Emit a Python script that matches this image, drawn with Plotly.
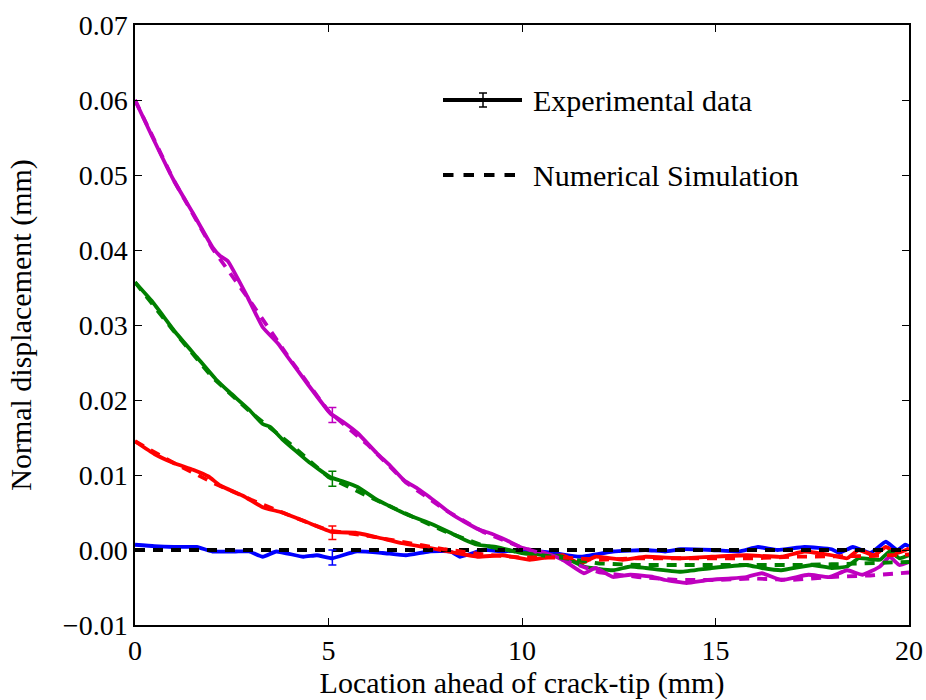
import plotly.graph_objects as go

# ---------------- data ----------------
mag_x = [0, 0.4, 1.0, 1.5, 2.0, 2.2, 2.4, 2.9, 3.3, 3.7, 3.95, 4.45, 5.05, 5.4, 5.75, 6.25, 6.6, 6.95,
         7.3, 7.6, 8.15, 8.5, 8.9, 9.2, 9.6, 10.0, 10.6, 11.05, 11.6, 11.9, 12.35, 12.8, 13.4,
         13.7, 14.25, 14.8, 15.4, 15.8, 16.2, 16.7, 17.4, 17.95, 18.4, 18.8, 19.25, 19.5, 19.75, 20.0]
mag_y = [0.0600, 0.0556, 0.0493, 0.0449, 0.0404, 0.0392, 0.0385, 0.0338, 0.0297, 0.0275, 0.0257, 0.0222,
         0.0182, 0.0170, 0.0156, 0.0129, 0.0112, 0.0093, 0.0082, 0.0071, 0.0049, 0.0038, 0.0027,
         0.0022, 0.0013, 0.0003, -0.0004, -0.0013, -0.0031, -0.0024, -0.0036, -0.0033, -0.0036,
         -0.0040, -0.0044, -0.0040, -0.0038, -0.0036, -0.0031, -0.0040, -0.0033, -0.0036, -0.0027,
         -0.0033, -0.0022, -0.0009, -0.0020, -0.0016]

grn_x = [0, 0.45, 1.05, 1.6, 2.1, 2.45, 2.95, 3.3, 3.5, 3.8, 4.5, 5.05, 5.4, 5.75, 6.25, 6.6, 6.95,
         7.6, 8.15, 8.5, 8.85, 9.35, 10.0, 10.5, 11.05, 11.6, 12.35, 12.8, 13.2, 14.1, 14.9, 15.8,
         16.2, 16.7, 17.5, 18.0, 18.4, 18.7, 19.25, 19.5, 19.75, 20.0]
grn_y = [0.0357, 0.0331, 0.0290, 0.0257, 0.0227, 0.0210, 0.0187, 0.0168, 0.0164, 0.0148, 0.0117,
         0.0097, 0.0091, 0.0084, 0.0067, 0.0058, 0.0049, 0.0036, 0.0023, 0.0014, 0.0007, 0.0004,
         -0.0004, -0.0006, -0.0009, -0.0022, -0.0027, -0.0022, -0.0024, -0.0029, -0.0024, -0.0020,
         -0.0024, -0.0027, -0.0020, -0.0024, -0.0022, -0.0011, -0.0013, -0.0002, -0.0011, -0.0007]

red_x = [0, 0.5, 1.0, 1.5, 1.9, 2.2, 2.8, 3.3, 3.8, 4.45, 5.1, 5.7, 6.25, 6.9, 7.6, 8.3, 8.85, 9.5,
         10.2, 10.6, 11.05, 11.5, 11.9, 12.6, 13.2, 14.1, 14.9, 15.8, 16.7, 17.3, 18.0, 18.4, 18.7,
         19.1, 19.4, 19.7, 20.0]
red_y = [0.0145, 0.0128, 0.0116, 0.0107, 0.0098, 0.0086, 0.0072, 0.0057, 0.0050, 0.0037, 0.0024,
         0.0023, 0.0017, 0.0009, 0.0003, -0.0004, -0.0009, -0.0007, -0.0013, -0.0010, -0.0007,
         -0.0018, -0.0009, -0.0013, -0.0009, -0.0011, -0.0009, -0.0007, -0.0009, -0.0002, -0.0007,
         -0.0011, 0.0000, -0.0007, 0.0004, -0.0004, 0.0002]

blu_x = [0, 0.5, 1.0, 1.6, 2.0, 2.6, 2.95, 3.3, 3.65, 4.35, 4.7, 5.1, 5.7, 6.4, 7.0, 7.6, 8.15, 8.4,
         9.0, 9.5, 10.0, 10.8, 11.5, 12.35, 13.2, 13.7, 14.1, 14.9, 15.6, 16.1, 16.6, 17.3, 18.0,
         18.2, 18.55, 19.0, 19.4, 19.7, 19.9, 20.0]
blu_y = [0.0007, 0.0005, 0.0004, 0.0004, -0.0002, -0.0002, -0.0002, -0.0009, -0.0002, -0.0009,
         -0.0007, -0.0011, -0.0002, -0.0004, -0.0007, -0.0002, -0.0002, -0.0009, 0.0000, -0.0002,
         0.0000, -0.0004, -0.0009, -0.0002, 0.0000, -0.0002, 0.0001, 0.0000, -0.0002, 0.0004,
         0.0000, 0.0004, 0.0001, -0.0004, 0.0004, -0.0004, 0.0011, 0.0000, 0.0007, 0.0005]

sim_x = [0, 1, 2, 3, 4, 5, 6, 7, 8, 9, 10, 11, 12, 13, 14, 15, 16, 17, 18, 19, 20]
mag_sim = [0.0600, 0.0493, 0.0402, 0.0330, 0.0255, 0.0185, 0.0141, 0.0090, 0.0054, 0.0024, 0.0003,
           -0.0012, -0.0030, -0.0036, -0.0040, -0.0040, -0.0038, -0.0040, -0.0036, -0.0034, -0.0030]
grn_sim = [0.0357, 0.0292, 0.0230, 0.0183, 0.0142, 0.0097, 0.0072, 0.0048, 0.0025, 0.0006, -0.0004,
           -0.0010, -0.0018, -0.0020, -0.0020, -0.0021, -0.0020, -0.0020, -0.0019, -0.0018, -0.0016]
red_sim = [0.0145, 0.0116, 0.0090, 0.0067, 0.0046, 0.0026, 0.0019, 0.0010, 0.0001, -0.0006, -0.0010,
           -0.0010, -0.0013, -0.0011, -0.0011, -0.0011, -0.0011, -0.0009, -0.0009, -0.0008, -0.0006]
zero_sim = [0.0] * len(sim_x)

err_x = 5.1
err_y = {"m": 0.0180, "g": 0.0095, "r": 0.0023, "b": -0.0010}
err_size = {"m": 0.0010, "g": 0.0010, "r": 0.0009, "b": 0.0010}

x_ticks = [0, 5, 10, 15, 20]
y_ticks = [-0.01, 0.0, 0.01, 0.02, 0.03, 0.04, 0.05, 0.06, 0.07]
y_ticktext = ["\u22120.01", "0.00", "0.01", "0.02", "0.03", "0.04", "0.05", "0.06", "0.07"]

colors = {"m": "#bf00bf", "g": "#008000", "r": "#ff0000", "b": "#0000ff"}
FONT = "'Liberation Serif', 'DejaVu Serif', serif"
DASH = "10px,8px"
LW = 3.8

fig = go.Figure()

exp = {"m": (mag_x, mag_y), "g": (grn_x, grn_y), "r": (red_x, red_y), "b": (blu_x, blu_y)}
sims = [("m", mag_sim), ("g", grn_sim), ("r", red_sim)]

for k in ["b", "r", "g", "m"]:
    xs, ys = exp[k]
    fig.add_trace(go.Scatter(x=xs, y=ys, mode="lines",
                             line=dict(color=colors[k], width=LW, shape="spline", smoothing=0.4),
                             showlegend=False, hoverinfo="skip"))

fig.add_trace(go.Scatter(x=sim_x, y=zero_sim, mode="lines",
                         line=dict(color="black", width=LW, dash=DASH), showlegend=False))
for k, ys in sims:
    fig.add_trace(go.Scatter(x=sim_x, y=ys, mode="lines",
                             line=dict(color=colors[k], width=LW, dash=DASH), showlegend=False))

for k in ["m", "g", "r", "b"]:
    fig.add_trace(go.Scatter(x=[err_x], y=[err_y[k]], mode="markers",
                             marker=dict(size=1, color=colors[k]),
                             error_y=dict(type="constant", value=err_size[k], color=colors[k],
                                          thickness=1.5, width=4),
                             showlegend=False))

# manual legend (paper coordinates)
L0, L1 = (443 - 135) / 774, (522 - 135) / 774
y1, y2 = (625 - 100) / 600, (625 - 175) / 600
xe = (483 - 135) / 774
fig.add_shape(type="line", xref="paper", yref="paper", x0=L0, x1=L1, y0=y1, y1=y1,
              line=dict(color="black", width=3.8))
fig.add_shape(type="line", xref="paper", yref="paper", x0=xe, x1=xe, y0=y1 - 7 / 600, y1=y1 + 7 / 600,
              line=dict(color="black", width=1.5))
for dy in (-7 / 600, 7 / 600):
    fig.add_shape(type="line", xref="paper", yref="paper", x0=xe - 4 / 774, x1=xe + 4 / 774,
                  y0=y1 + dy, y1=y1 + dy, line=dict(color="black", width=1.5))
fig.add_shape(type="line", xref="paper", yref="paper", x0=L0, x1=L1, y0=y2, y1=y2,
              line=dict(color="black", width=3.8, dash="10.5px,10px"))
fig.add_annotation(xref="paper", yref="paper", x=(531 - 135) / 774, y=y1, xanchor="left",
                   yanchor="middle", text="Experimental data", showarrow=False,
                   font=dict(family=FONT, size=30, color="black"))
fig.add_annotation(xref="paper", yref="paper", x=(531 - 135) / 774, y=y2, xanchor="left",
                   yanchor="middle", text="Numerical Simulation", showarrow=False,
                   font=dict(family=FONT, size=30, color="black"))

axis_common = dict(showgrid=False, zeroline=False, showline=True, linecolor="black", linewidth=1.5,
                   ticks="inside", ticklen=7, tickwidth=1.2, tickcolor="black", mirror="allticks",
                   automargin=False,
                   tickfont=dict(family=FONT, size=28, color="black"))

fig.update_layout(
    width=926, height=700,
    margin=dict(l=135, r=17, t=25, b=75, autoexpand=False),
    paper_bgcolor="white", plot_bgcolor="white",
    font=dict(family=FONT, color="black"),
    xaxis=dict(range=[0, 20], tickvals=x_ticks, ticktext=[str(v) for v in x_ticks],
               title=dict(text="Location ahead of crack-tip (mm)", font=dict(family=FONT, size=30),
                          standoff=2),
               **axis_common),
    yaxis=dict(range=[-0.01, 0.07], tickvals=y_ticks, ticktext=y_ticktext,
               title=dict(text="Normal displacement (mm)", font=dict(family=FONT, size=30),
                          standoff=22),
               **axis_common),
)

fig.write_html("out.html")
